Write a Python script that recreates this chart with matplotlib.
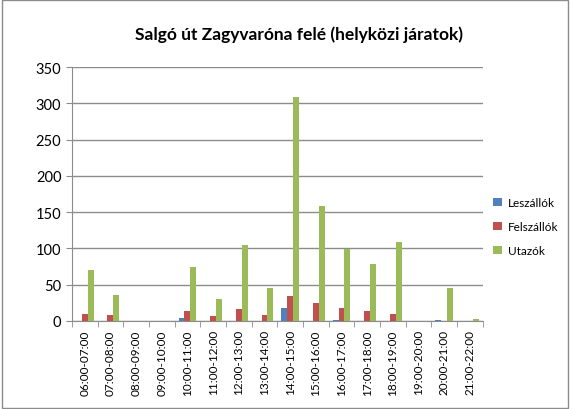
import numpy as np
import matplotlib.pyplot as plt
from matplotlib.patches import Rectangle

# adatok
idoszakok = ["06:00-07:00", "07:00-08:00", "08:00-09:00", "09:00-10:00",
             "10:00-11:00", "11:00-12:00", "12:00-13:00", "13:00-14:00",
             "14:00-15:00", "15:00-16:00", "16:00-17:00", "17:00-18:00",
             "18:00-19:00", "19:00-20:00", "20:00-21:00", "21:00-22:00"]
leszallok = [0, 0, 0, 0, 4, 0, 0, 0, 18, 0, 1, 0, 0, 0, 1, 0]
felszallok = [10, 8, 0, 0, 13, 6, 16, 8, 34, 24, 18, 13, 9, 0, 0, 0]
utazok = [70, 35, 0, 0, 74, 30, 104, 45, 309, 159, 99, 79, 109, 0, 45, 3]

sorozatok = [("Leszállók", leszallok, "#4F81BD"),
             ("Felszállók", felszallok, "#C0504D"),
             ("Utazók", utazok, "#9BBB59")]

plt.rcParams['font.family'] = ['Lato', 'DejaVu Sans']

fig = plt.figure(figsize=(5.7, 4.1), dpi=100)
fig.patches.append(Rectangle((0.003, 0.003), 0.994, 0.994, transform=fig.transFigure,
                             fill=False, edgecolor="#8c8c8c", linewidth=1))
ax = fig.add_axes([0.126, 0.215, 0.721, 0.619])

x = np.arange(len(idoszakok))
w = 0.23
for i, (nev, ertekek, szin) in enumerate(sorozatok):
    ax.bar(x + (i - 1) * w, ertekek, width=w, color=szin, label=nev, zorder=3)

ax.set_xlim(-0.5, len(idoszakok) - 0.5)
ax.set_ylim(0, 350)
ax.set_yticks(range(0, 351, 50))
ax.yaxis.grid(True, color="#8c8c8c", linewidth=1, zorder=0)
ax.set_xticks(x)
ax.set_xticklabels(idoszakok, rotation=90, fontsize=8.5)
ax.set_xticks(np.arange(-0.5, len(idoszakok), 1), minor=True)
ax.tick_params(axis="x", which="major", length=0, pad=6)
ax.tick_params(axis="x", which="minor", length=4, color="#8c8c8c")
ax.tick_params(axis="y", labelsize=10.5, length=4, color="#8c8c8c")
for s in ["top", "right"]:
    ax.spines[s].set_visible(False)
for s in ["left", "bottom"]:
    ax.spines[s].set_color("#8c8c8c")

fig.text(0.525, 0.915, "Salgó út Zagyvaróna felé (helyközi járatok)", fontsize=12.5,
         fontweight="bold", ha="center", va="center")
ax.legend(loc="center left", bbox_to_anchor=(1.0, 0.37), frameon=False,
          fontsize=8.5, handlelength=0.7, handleheight=0.7, labelspacing=1.1,
          handletextpad=0.5)

fig.savefig("out.png", dpi=100)
